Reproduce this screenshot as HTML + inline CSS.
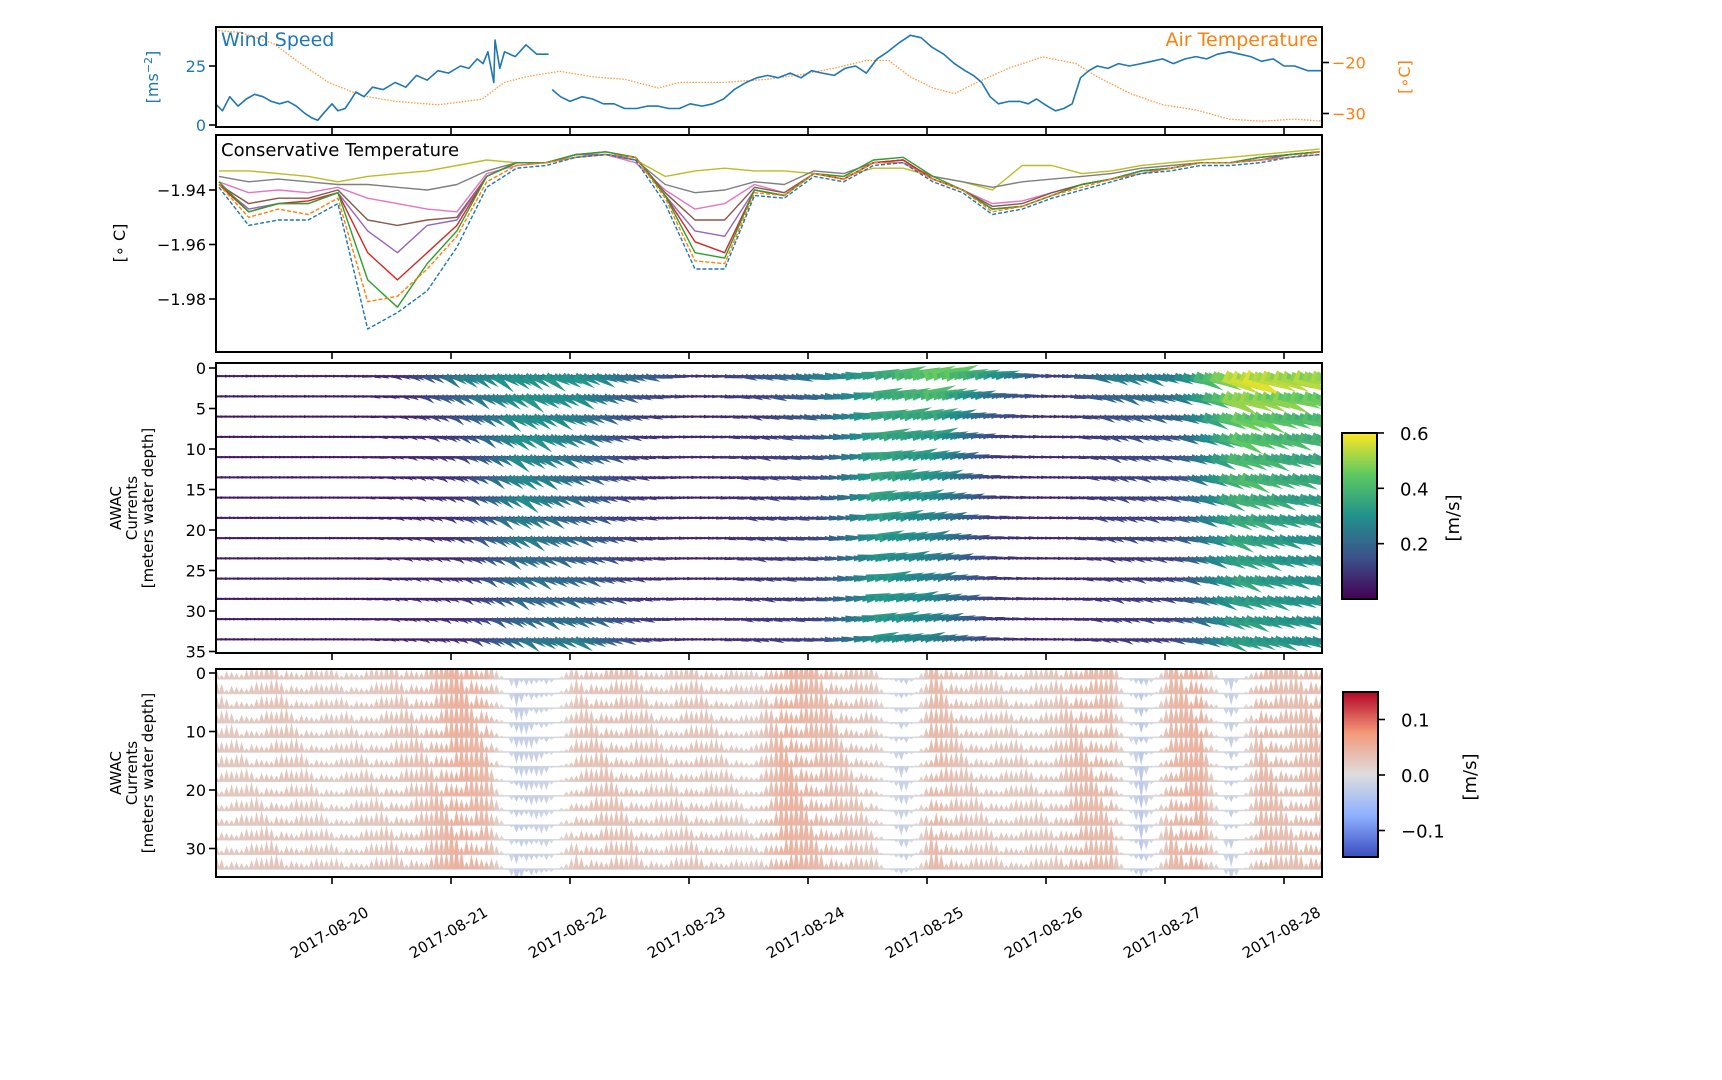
<!DOCTYPE html>
<html><head><meta charset="utf-8"><style>
html,body{margin:0;padding:0;background:#fff;}
svg{display:block;font-family:"DejaVu Sans","Liberation Sans",sans-serif;}
</style></head><body>
<svg id="fig" width="1722" height="1080" viewBox="0 0 1722 1080" xmlns="http://www.w3.org/2000/svg">
<defs>
<linearGradient id="viridis" x1="0" y1="1" x2="0" y2="0">
<stop offset="0" stop-color="#440154"/><stop offset="0.25" stop-color="#3b528b"/><stop offset="0.5" stop-color="#21918c"/><stop offset="0.75" stop-color="#5ec962"/><stop offset="1" stop-color="#fde725"/>
</linearGradient>
<linearGradient id="coolwarm" x1="0" y1="1" x2="0" y2="0">
<stop offset="0" stop-color="#3b4cc0"/><stop offset="0.25" stop-color="#8db0fe"/><stop offset="0.5" stop-color="#dddddd"/><stop offset="0.75" stop-color="#f49a7b"/><stop offset="1" stop-color="#b40426"/>
</linearGradient>
<clipPath id="c1"><rect x="216" y="27" width="1106" height="100"/></clipPath>
<clipPath id="c2"><rect x="216" y="135" width="1106" height="217"/></clipPath>
<clipPath id="c3"><rect x="216" y="363" width="1106" height="290"/></clipPath>
<clipPath id="c4"><rect x="216" y="669" width="1106" height="208"/></clipPath>
</defs>
<g id="p1"></g>
<g id="p2"></g>
<g id="p3"></g>
<g id="p4"></g>
<g id="cb"></g>
<g id="ax"></g>
</svg>
<script>
// ---- data ----
const dateTicks = [0,1,2,3,4,5,6,7,8];
const dateLabels = ["2017-08-20","2017-08-21","2017-08-22","2017-08-23","2017-08-24","2017-08-25","2017-08-26","2017-08-27","2017-08-28"];
const windT = [-0.98,-0.92,-0.86,-0.79,-0.72,-0.65,-0.58,-0.51,-0.44,-0.37,-0.30,-0.23,-0.17,-0.12,-0.07,0,0.05,0.11,0.15,0.20,0.27,0.34,0.43,0.53,0.62,0.71,0.80,0.89,0.98,1.08,1.15,1.22,1.27,1.31,1.36,1.37,1.41,1.45,1.54,1.63,1.72,1.82,1.83,1.85,1.92,2.0,2.1,2.19,2.28,2.37,2.46,2.56,2.65,2.74,2.83,2.92,3.01,3.11,3.2,3.29,3.38,3.48,3.57,3.66,3.75,3.85,3.94,4.03,4.12,4.22,4.31,4.40,4.49,4.58,4.67,4.77,4.86,4.95,5.04,5.14,5.23,5.32,5.39,5.46,5.53,5.60,5.69,5.78,5.85,5.92,6.01,6.08,6.15,6.22,6.29,6.36,6.43,6.52,6.61,6.70,6.80,6.89,6.98,7.07,7.17,7.26,7.35,7.44,7.54,7.63,7.72,7.81,7.91,8.0,8.09,8.2,8.32];
const windV = [9,6,12,8,11,13,12,10,9,10,8,5,3,2,5,9,6,7,10,14,12,16,15,18,16,21,19,23,22,25,24,28,26,31,18,36,24,31,29,34,30,30,null,15,12,10,12,11,9,9,7,7,8,8,7,7,9,8,9,11,15,18,20,21,20,22,20,23,22,21,24,25,22,28,31,35,38,37,33,30,26,23,21,18,12,9,10,10,9,11,8,6,7,9,20,23,25,24,26,25,26,27,28,26,28,29,28,30,31,30,29,27,28,25,25,23,23];
const airT = [-0.98,-0.77,-0.49,-0.30,-0.03,0.25,0.53,0.89,1.26,1.45,1.63,1.91,2.19,2.46,2.74,2.92,3.29,3.66,3.94,4.22,4.49,4.68,4.86,5.05,5.23,5.42,5.69,5.97,6.25,6.43,6.71,6.98,7.26,7.54,7.81,8.09,8.32];
const airV = [-13.7,-14.1,-16.3,-19.6,-23.9,-26.5,-27.6,-28.3,-27.2,-23.9,-22.8,-21.7,-22.8,-23.3,-25,-23.9,-23.9,-23.3,-22.4,-21.1,-19.6,-19.6,-22.8,-25,-26.1,-23.9,-21.1,-18.9,-20.2,-22.8,-26.1,-28.3,-29.3,-31.1,-31.5,-31.1,-31.5];
const tempT = [-0.95,-0.7,-0.45,-0.2,0.05,0.3,0.55,0.8,1.05,1.3,1.55,1.8,2.05,2.3,2.55,2.8,3.05,3.3,3.55,3.8,4.05,4.3,4.55,4.8,5.05,5.3,5.55,5.8,6.05,6.3,6.55,6.8,7.05,7.3,7.55,7.8,8.05,8.3];
const ctBlue = [-1.939,-1.953,-1.951,-1.951,-1.945,-1.991,-1.985,-1.977,-1.961,-1.939,-1.932,-1.931,-1.928,-1.927,-1.929,-1.945,-1.969,-1.969,-1.942,-1.943,-1.935,-1.937,-1.931,-1.930,-1.937,-1.941,-1.949,-1.947,-1.943,-1.940,-1.937,-1.934,-1.933,-1.931,-1.931,-1.930,-1.928,-1.927];
const ctOrange = [-1.938,-1.950,-1.947,-1.949,-1.943,-1.981,-1.979,-1.969,-1.957,-1.937,-1.931,-1.930,-1.928,-1.927,-1.928,-1.943,-1.966,-1.967,-1.941,-1.942,-1.934,-1.936,-1.930,-1.930,-1.936,-1.940,-1.948,-1.946,-1.942,-1.939,-1.936,-1.934,-1.932,-1.930,-1.930,-1.929,-1.928,-1.926];
const ctGreen = [-1.937,-1.948,-1.945,-1.945,-1.941,-1.973,-1.983,-1.967,-1.955,-1.935,-1.930,-1.930,-1.927,-1.926,-1.928,-1.942,-1.963,-1.965,-1.940,-1.942,-1.934,-1.935,-1.929,-1.928,-1.935,-1.940,-1.947,-1.946,-1.942,-1.938,-1.936,-1.933,-1.932,-1.930,-1.930,-1.928,-1.927,-1.926];
const ctRed = [-1.938,-1.948,-1.945,-1.944,-1.941,-1.963,-1.973,-1.963,-1.953,-1.935,-1.930,-1.930,-1.927,-1.926,-1.928,-1.942,-1.959,-1.963,-1.940,-1.942,-1.934,-1.936,-1.930,-1.929,-1.936,-1.940,-1.947,-1.946,-1.942,-1.938,-1.936,-1.933,-1.932,-1.930,-1.930,-1.928,-1.927,-1.926];
const ctPurple = [-1.938,-1.947,-1.945,-1.945,-1.941,-1.955,-1.963,-1.953,-1.951,-1.935,-1.930,-1.930,-1.927,-1.927,-1.928,-1.942,-1.955,-1.957,-1.940,-1.942,-1.934,-1.936,-1.930,-1.929,-1.936,-1.940,-1.947,-1.946,-1.942,-1.938,-1.936,-1.933,-1.932,-1.930,-1.930,-1.929,-1.927,-1.926];
const ctBrown = [-1.938,-1.945,-1.943,-1.943,-1.940,-1.951,-1.953,-1.951,-1.950,-1.935,-1.930,-1.930,-1.927,-1.927,-1.928,-1.941,-1.951,-1.951,-1.939,-1.941,-1.934,-1.936,-1.930,-1.929,-1.936,-1.940,-1.946,-1.945,-1.941,-1.938,-1.936,-1.933,-1.932,-1.930,-1.930,-1.929,-1.927,-1.926];
const ctPink = [-1.937,-1.941,-1.940,-1.941,-1.939,-1.943,-1.945,-1.947,-1.948,-1.934,-1.931,-1.930,-1.928,-1.927,-1.930,-1.940,-1.947,-1.945,-1.938,-1.941,-1.934,-1.936,-1.930,-1.930,-1.936,-1.940,-1.945,-1.944,-1.941,-1.938,-1.936,-1.934,-1.932,-1.930,-1.930,-1.929,-1.928,-1.927];
const ctGray = [-1.935,-1.937,-1.936,-1.937,-1.938,-1.938,-1.939,-1.940,-1.938,-1.933,-1.930,-1.930,-1.928,-1.927,-1.929,-1.938,-1.941,-1.940,-1.937,-1.938,-1.933,-1.934,-1.930,-1.930,-1.935,-1.937,-1.939,-1.937,-1.936,-1.935,-1.934,-1.932,-1.931,-1.930,-1.930,-1.928,-1.927,-1.926];
const ctOlive = [-1.933,-1.933,-1.934,-1.935,-1.937,-1.935,-1.934,-1.933,-1.931,-1.929,-1.930,-1.930,-1.928,-1.927,-1.929,-1.935,-1.933,-1.932,-1.933,-1.933,-1.934,-1.935,-1.932,-1.932,-1.935,-1.937,-1.940,-1.931,-1.931,-1.934,-1.933,-1.931,-1.930,-1.929,-1.928,-1.927,-1.926,-1.925];
const rowDepths = [1,3.5,6,8.5,11,13.5,16,18.5,21,23.5,26,28.5,31,33.5];
const speedT = [-0.95,-0.45,0.05,0.55,1.05,1.55,2.05,2.55,3.05,3.55,4.05,4.55,5.05,5.55,6.05,6.55,7.05,7.55,8.05];
const speedDir = [0,0,0,-20,-25,-25,-20,-15,0,-15,-8,10,12,8,0,-20,-15,-18,-15];
const speedRows = [
[0.05,0.05,0.05,0.08,0.25,0.3,0.3,0.2,0.08,0.15,0.25,0.35,0.45,0.3,0.1,0.25,0.25,0.55,0.5],
[0.05,0.05,0.05,0.06,0.2,0.3,0.28,0.15,0.07,0.12,0.2,0.35,0.4,0.2,0.08,0.2,0.22,0.5,0.45],
[0.04,0.04,0.04,0.05,0.15,0.3,0.25,0.12,0.06,0.1,0.18,0.35,0.35,0.15,0.07,0.15,0.18,0.45,0.4],
[0.04,0.04,0.04,0.05,0.12,0.3,0.25,0.1,0.06,0.1,0.15,0.35,0.32,0.12,0.06,0.13,0.15,0.42,0.38],
[0.04,0.04,0.04,0.05,0.1,0.28,0.22,0.1,0.06,0.1,0.14,0.35,0.3,0.1,0.06,0.12,0.14,0.4,0.35],
[0.04,0.04,0.04,0.05,0.1,0.28,0.2,0.1,0.06,0.1,0.13,0.35,0.3,0.1,0.06,0.12,0.13,0.4,0.35],
[0.04,0.04,0.04,0.05,0.1,0.28,0.2,0.1,0.06,0.1,0.13,0.34,0.28,0.1,0.06,0.12,0.13,0.38,0.33],
[0.04,0.04,0.04,0.05,0.1,0.25,0.18,0.1,0.06,0.1,0.12,0.33,0.26,0.1,0.06,0.12,0.13,0.36,0.32],
[0.04,0.04,0.04,0.05,0.1,0.25,0.2,0.1,0.06,0.1,0.12,0.32,0.26,0.1,0.06,0.12,0.13,0.35,0.3],
[0.04,0.04,0.04,0.05,0.08,0.22,0.18,0.1,0.06,0.1,0.12,0.3,0.25,0.1,0.06,0.1,0.12,0.34,0.3],
[0.04,0.04,0.04,0.05,0.08,0.22,0.2,0.1,0.06,0.1,0.12,0.32,0.25,0.1,0.06,0.1,0.12,0.34,0.3],
[0.04,0.04,0.04,0.05,0.08,0.2,0.2,0.1,0.06,0.1,0.12,0.32,0.26,0.1,0.06,0.1,0.12,0.33,0.3],
[0.04,0.04,0.04,0.05,0.08,0.2,0.22,0.12,0.06,0.1,0.12,0.32,0.26,0.1,0.06,0.1,0.12,0.33,0.3],
[0.04,0.04,0.04,0.05,0.08,0.22,0.25,0.12,0.06,0.1,0.12,0.3,0.25,0.1,0.06,0.1,0.12,0.33,0.3]];
const wT = tempT;
const wByTime = [0.03,0.03,0.035,0.03,0.025,0.03,0.035,0.04,0.06,0.05,-0.03,-0.02,0.035,0.04,0.035,0.03,0.035,0.03,0.02,0.06,0.05,0.04,0.03,-0.03,0.05,0.035,0.03,0.03,0.03,0.05,0.045,-0.04,0.05,0.06,-0.03,0.05,0.04,0.05];
const windTicks=[0,25], airTicks=[-20,-30], ctTicks=[-1.94,-1.96,-1.98], d3Ticks=[0,5,10,15,20,25,30,35], d4Ticks=[0,10,20,30];
const cb1Ticks=[0.2,0.4,0.6], cb2Ticks=[0.1,0.0,-0.1];

// ---- scales ----
const L=216,R=1322;
const X=t=>332+119*t;
const yWind=v=>125-2.36*v, yAir=v=>62.5+(-20-v)*5.1, yCT=v=>190+(-1.94-v)*2725;
const yD3=d=>368+8.1*d, yD4=d=>673+5.85*d;
const NS="http://www.w3.org/2000/svg";
function mk(tag,attrs,parent){const e=document.createElementNS(NS,tag);for(const k in attrs)e.setAttribute(k,attrs[k]);parent.appendChild(e);return e;}
function lerpCol(stops,f){f=Math.max(0,Math.min(1,f));const n=stops.length-1,i=Math.min(n-1,Math.floor(f*n)),u=f*n-i;const a=stops[i],b=stops[i+1];return `rgb(${a.map((c,k)=>Math.round(c+(b[k]-c)*u)).join(',')})`;}
const VIR=[[68,1,84],[59,82,139],[33,145,140],[94,201,98],[253,231,37]];
const CW=[[59,76,192],[141,176,254],[221,221,221],[244,154,123],[180,4,38]];
function interp(ts,vs,t){if(t<=ts[0])return vs[0];for(let i=1;i<ts.length;i++){if(t<=ts[i]){const u=(t-ts[i-1])/(ts[i]-ts[i-1]);return vs[i-1]+(vs[i]-vs[i-1])*u;}}return vs[vs.length-1];}
function line(parent,ts,vs,yf,style,name){let d='',pen=false;for(let i=0;i<ts.length;i++){if(vs[i]===null){pen=false;continue;}d+=(pen?'L':'M')+X(ts[i]).toFixed(1)+','+yf(vs[i]).toFixed(1);pen=true;}const p=mk('path',Object.assign({d:d,fill:'none','stroke-linejoin':'round'},style),parent);return p;}

// ---- panel 1 ----
const p1=document.getElementById('p1');const g1=mk('g',{'clip-path':'url(#c1)'},p1);
line(g1,airT,airV,yAir,{stroke:'#ff7f0e','stroke-width':1.3,'stroke-dasharray':'1.5,1.5',opacity:0.8},'air-temperature-line');
line(g1,windT,windV,yWind,{stroke:'#1f77b4','stroke-width':1.6},'wind-speed-line');
// ---- panel 2 ----
const p2=document.getElementById('p2');const g2=mk('g',{'clip-path':'url(#c2)'},p2);
const ctSeries=[[ctOlive,'#bcbd22',0],[ctGray,'#7f7f7f',0],[ctPink,'#e377c2',0],[ctBrown,'#8c564b',0],[ctPurple,'#9467bd',0],[ctRed,'#d62728',0],[ctGreen,'#2ca02c',0],[ctOrange,'#ff7f0e',1],[ctBlue,'#1f77b4',1]];
const ctNames=['olive','gray','pink','brown','purple','red','green','orange','blue'];
ctSeries.forEach((s,i)=>{const st={stroke:s[1],'stroke-width':1.4};if(s[2])st['stroke-dasharray']='4,2';line(g2,tempT,s[0],yCT,st,'temp-line-'+ctNames[i]);});
// ---- panel 3 quiver ----
const MOD=[1,0.6,1.3,0.8,1.15,0.5,0.95,1.45,0.7,1.05,0.85,1.25];
const p3=document.getElementById('p3');const g3=mk('g',{'clip-path':'url(#c3)'},p3);
rowDepths.forEach((d,r)=>{const y0=yD3(d);
 mk('line',{x1:L,x2:R,y1:y0,y2:y0,stroke:'#46206e','stroke-width':2},g3);
 let k=0;
 for(let t=-0.97;t<=8.32;t+=0.035,k++){const sp0=interp(speedT,speedRows[r],t);const m=MOD[(k+r*5)%12];const sp=sp0*m;const ang=interp(speedT,speedDir,t)*Math.PI/180*(0.5+m*0.8);
  const len=2+sp*55,w=1+sp*8,x0=X(t);const dx=Math.cos(ang)*len,dy=-Math.sin(ang)*len;const nx=-dy/len*w,ny=dx/len*w;
  const pts=[[x0+nx,y0+ny],[x0-nx,y0-ny],[x0+dx,y0+dy]].map(p=>p[0].toFixed(1)+','+p[1].toFixed(1)).join(' ');
  const a=mk('polygon',{points:pts,fill:lerpCol(VIR,(sp0*(0.85+0.15*m))/0.6)},g3);
  
  }});
// ---- panel 4 quiver ----
const MOD4=[1,0.5,1.3,0.7,1.1,0.4,0.9,1.4,0.6,1.0,0.8,1.2];
const p4=document.getElementById('p4');const g4=mk('g',{'clip-path':'url(#c4)'},p4);
rowDepths.forEach((d,r)=>{const y0=yD4(d);mk('line',{x1:L,x2:R,y1:y0,y2:y0,stroke:'#d4d6e0','stroke-width':1.5},g4);let k=0;
 for(let t=-0.97;t<=8.32;t+=0.042,k++){const w0=interp(wT,wByTime,t);const w=w0*MOD4[(k*5+r*7)%12];const h=w*330;const x0=X(t);
  const pts=`${(x0-3).toFixed(1)},${y0.toFixed(1)} ${(x0+3).toFixed(1)},${y0.toFixed(1)} ${x0.toFixed(1)},${(y0-h).toFixed(1)}`;
  const a=mk('polygon',{points:pts,fill:lerpCol(CW,(w0*0.8+0.15)/0.3)},g4);
  
  }});
// ---- axes ----
const ax=document.getElementById('ax');
const panels=[[27,127],[135,352],[363,653],[669,877]];
panels.forEach((p,i)=>{const r=mk('rect',{x:L,y:p[0],width:R-L,height:p[1]-p[0],fill:'none',stroke:'#000','stroke-width':2},ax);
 dateTicks.forEach(t=>mk('line',{x1:X(t),x2:X(t),y1:p[1],y2:p[1]+7,stroke:'#000','stroke-width':1.6},ax));});
function txt(s,x,y,attrs,name){const e=mk('text',Object.assign({x:x,y:y},attrs),ax);e.textContent=s;return e;}
function yTick(y,x,side,label,color,name){mk('line',{x1:side<0?x-7:x,x2:side<0?x:x+7,y1:y,y2:y,stroke:'#000','stroke-width':1.6},ax);txt(label,side<0?x-10:x+10,y+6,{'font-size':16,fill:color,'text-anchor':side<0?'end':'start'},name);}
windTicks.forEach(v=>yTick(yWind(v),L,-1,String(v),'#1f77b4','wind-tick-label'));
airTicks.forEach(v=>yTick(yAir(v),R,1,'\u2212'+Math.abs(v),'#ff7f0e','air-tick-label'));
ctTicks.forEach(v=>yTick(yCT(v),L,-1,'\u2212'+Math.abs(v).toFixed(2),'#000','temp-tick-label'));
d3Ticks.forEach(v=>yTick(yD3(v),L,-1,String(v),'#000','depth-tick-label'));
d4Ticks.forEach(v=>yTick(yD4(v),L,-1,String(v),'#000','depth-tick-label'));
dateTicks.forEach((t,i)=>txt(dateLabels[i],0,0,{'font-size':15,'text-anchor':'middle',transform:`translate(${X(t)},${937}) rotate(-30)`},'date-tick-label'));
txt('Wind Speed',221,46,{'font-size':19,fill:'#1f77b4'},'wind-speed-title');
txt('Air Temperature',1318,46,{'font-size':19,fill:'#ff7f0e','text-anchor':'end'},'air-temperature-title');
txt('Conservative Temperature',221,156,{'font-size':18,fill:'#000'},'temperature-title');
const t1=txt('[ms',0,0,{'font-size':16,fill:'#1f77b4','text-anchor':'middle',transform:'translate(158,77) rotate(-90)'},'wind-axis-label');
const ts1=mk('tspan',{dy:-6,'font-size':11},t1);ts1.textContent='\u22122';const ts2=mk('tspan',{dy:6},t1);ts2.textContent=']';
txt('[\u2218C]',0,0,{'font-size':16,fill:'#ff7f0e','text-anchor':'middle',transform:'translate(1410,77) rotate(-90)'},'air-axis-label');
txt('[\u2218 C]',0,0,{'font-size':16,fill:'#000','text-anchor':'middle',transform:'translate(125,243) rotate(-90)'},'temp-axis-label');
[[508,'awac-depth-label-1'],[773,'awac-depth-label-2']].forEach(a=>{const e=txt('',0,0,{'font-size':15,fill:'#000','text-anchor':'middle',transform:`translate(121,${a[0]}) rotate(-90)`},a[1]);
 ['AWAC','Currents','[meters water depth]'].forEach((s,i)=>{const sp=mk('tspan',{x:0,dy:i?16:0},e);sp.textContent=s;});});
// ---- colorbars ----
const cb=document.getElementById('cb');
const r1=mk('rect',{x:1342,y:433,width:35,height:166,fill:'url(#viridis)',stroke:'#000','stroke-width':2},cb);
const r2=mk('rect',{x:1343,y:692,width:35,height:165,fill:'url(#coolwarm)',stroke:'#000','stroke-width':2},cb);
const yC1=v=>599-v*276.7, yC2=v=>775-v*555;
cb1Ticks.forEach(v=>{mk('line',{x1:1377,x2:1384,y1:yC1(v),y2:yC1(v),stroke:'#000','stroke-width':1.6},cb);txt(v.toFixed(1),1400,yC1(v)+7,{'font-size':18},'speed-colorbar-tick');});
cb2Ticks.forEach(v=>{mk('line',{x1:1378,x2:1385,y1:yC2(v),y2:yC2(v),stroke:'#000','stroke-width':1.6},cb);txt((v<0?'\u2212':'')+Math.abs(v).toFixed(1),1401,yC2(v)+7,{'font-size':18},'vertical-colorbar-tick');});
txt('[m/s]',0,0,{'font-size':18,'text-anchor':'middle',transform:'translate(1459,518) rotate(-90)'},'speed-colorbar-label');
txt('[m/s]',0,0,{'font-size':18,'text-anchor':'middle',transform:'translate(1476,777) rotate(-90)'},'vertical-colorbar-label');
</script>
</body></html>
